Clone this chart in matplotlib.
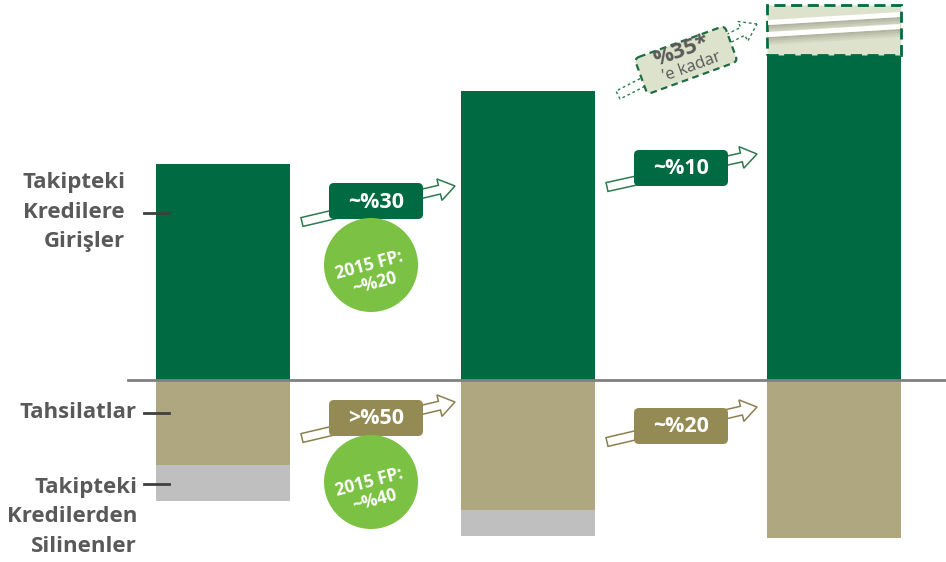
import matplotlib
matplotlib.use("Agg")
import matplotlib.pyplot as plt
from matplotlib.patches import FancyArrow, FancyBboxPatch, Circle, Polygon
import matplotlib.transforms as mtransforms

plt.rcParams['font.family'] = ['Open Sans', 'DejaVu Sans']

# ---------------- data ----------------
periods = [0, 1, 2]
inflows = [100.0, 133.6, 150.5]          # Takipteki Kredilere Girişler
inflow_projection_extra = [0, 0, 23.1]   # dashed "up to %35" part
collections = [39.4, 60.2, 73.1]         # Tahsilatlar
writeoffs = [16.7, 12.0, 0.0]            # Takipteki Kredilerden Silinenler
row_labels = ["Takipteki\nKredilere\nGirişler", "Tahsilatlar",
              "Takipteki\nKredilerden\nSilinenler"]
up_changes = ["~%30", "~%10"]
down_changes = [">%50", "~%20"]
fp_notes = ["2015 FP:\n~%20", "2015 FP:\n~%40"]
proj_note = ["%35*", "\u2019e kadar"]

GREEN = "#006a42"
TAN = "#afa77f"
GRAY = "#bfbfbf"
LIME = "#7bc143"
DTAN = "#948a54"
PALE = "#dde2cc"
TXT = "#595959"

W, H = 946, 562
fig = plt.figure(figsize=(W / 100, H / 100), dpi=100)
ax = fig.add_axes([0, 0, 1, 1])
ax.set_xlim(-0.73, 2.367)
ax.set_ylim(-84.26, 175.93)
ax.axis('off')

bw = 0.4386
ax.bar(periods, inflows, width=bw, color=GREEN, zorder=2)
ax.bar(periods, [-c for c in collections], width=bw, color=TAN, zorder=2)
ax.bar(periods, [-w for w in writeoffs], width=bw,
       bottom=[-c for c in collections], color=GRAY, zorder=2)
# projected part
ax.bar(periods, inflow_projection_extra, width=bw, bottom=inflows,
       color=PALE, edgecolor=[GREEN if e > 0 else 'none' for e in inflow_projection_extra],
       linestyle=(0, (4, 2)), linewidth=2, zorder=2)

# overlay in pixel space
ov = fig.add_axes([0, 0, 1, 1], zorder=5)
ov.set_xlim(0, W)
ov.set_ylim(H, 0)
ov.axis('off')
ov.patch.set_alpha(0)

# white stripes (with soft shadow) in projected part
for (yl, yr) in [(20, 12), (32, 24)]:
    for k, a in enumerate([0.55, 0.4, 0.25, 0.12]):
        o = 5 + 2 * k
        ov.add_patch(Polygon([(768, yl + o), (900, yr + o), (900, yr + o + 2), (768, yl + o + 2)],
                             closed=True, fc="#8f8f80", ec='none', alpha=a, zorder=3))
    ov.add_patch(Polygon([(768, yl), (900, yr), (900, yr + 5), (768, yl + 5)],
                         closed=True, fc='white', ec='none', zorder=4))

# zero line
ov.plot([128, W], [380, 380], color="#808080", lw=2, zorder=6)

# row labels + ticks: (right edge, tick y, text centre y)
label_specs = [(125, 213, 212), (136, 413, 413), (137, 484, 517)]
for lab, (xr, ty, cy) in zip(row_labels, label_specs):
    ov.text(xr, cy, lab, ha='right', va='center', fontsize=16, fontweight='bold',
            color=TXT, linespacing=1.55, multialignment='right')
    ov.plot([144, 169], [ty, ty], color="#3f3f3f", lw=2, zorder=6)


def outline_arrow(x0, y0, x1, y1, ec, ls='solid'):
    a = FancyArrow(x0, y0, x1 - x0, y1 - y0, width=9, head_width=22, head_length=16,
                   length_includes_head=True, fc='white', ec=ec, lw=1.1,
                   linestyle=ls, zorder=6)
    ov.add_patch(a)


def label_box(cx, cy, text, fc, w=94, h=36):
    ov.add_patch(FancyBboxPatch((cx - w / 2, cy - h / 2), w, h,
                                boxstyle="round,pad=0,rounding_size=5",
                                fc=fc, ec='none', zorder=7))
    ov.text(cx, cy + 1, text, ha='center', va='center', color='white',
            fontsize=15.5, fontweight='bold', zorder=8)


# upper arrows
outline_arrow(302, 222, 455, 186, "#2e7a4f")
label_box(376, 201, up_changes[0], GREEN)
outline_arrow(607, 187, 757, 154, "#2e7a4f")
label_box(681, 168, up_changes[1], GREEN)
# lower arrows
outline_arrow(302, 438, 455, 402, "#8a8050")
label_box(376, 418, down_changes[0], DTAN)
outline_arrow(607, 442, 757, 407, "#8a8050")
label_box(681, 426, down_changes[1], DTAN)

# circles
for (cx, cy), note in zip([(371, 265), (371, 482)], fp_notes):
    ov.add_patch(Circle((cx, cy), 47, fc=LIME, ec='none', zorder=9))
    ov.text(cx + 1, cy + 9, note, ha='center', va='center', color='white', fontsize=12.5,
            fontweight='bold', rotation=15, linespacing=1.05, zorder=10,
            rotation_mode='anchor')

# dashed projection arrow + box
ov.add_patch(FancyArrow(618, 95, 757 - 618, 24 - 95, width=9, head_width=22,
                        head_length=16, length_includes_head=True, fc='white',
                        ec="#2e7a4f", lw=1, linestyle=(0, (2, 2)), zorder=6))
bx, by, bwid, bht = 686, 60, 96, 38
box = FancyBboxPatch((bx - bwid / 2, by - bht / 2), bwid, bht,
                     boxstyle="round,pad=0,rounding_size=5", fc=PALE, ec="#1f6b44",
                     lw=1.6, linestyle=(0, (3, 2)), zorder=7)
tr = mtransforms.Affine2D().rotate_deg_around(bx, by, -20) + ov.transData
box.set_transform(tr)
ov.add_patch(box)
ov.text(682, 51, proj_note[0], ha='center', va='center', color=TXT,
        fontsize=16, fontweight='bold', rotation=20, rotation_mode='anchor', zorder=8)
ov.text(692, 67, proj_note[1], ha='center', va='center', color=TXT,
        fontsize=12, rotation=20, rotation_mode='anchor', zorder=8)

fig.savefig("out.png", dpi=100)
